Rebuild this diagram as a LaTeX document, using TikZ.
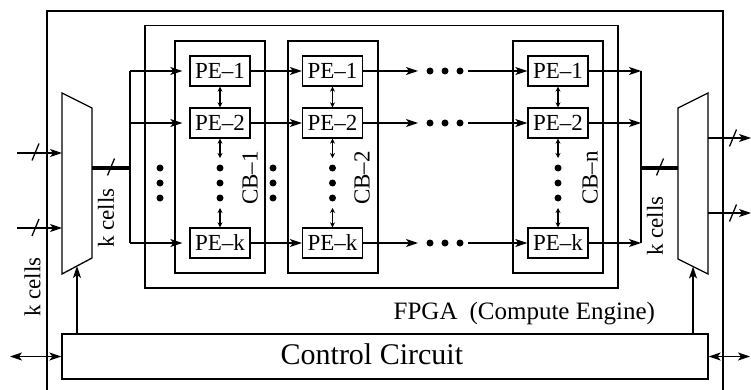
\documentclass[tikz,border=0pt]{standalone}
\usepackage{fontspec}
\setmainfont{Liberation Serif}
\usetikzlibrary{arrows.meta}
\begin{document}
\begin{tikzpicture}[x=1pt,y=-1pt,
  line width=1.3pt,
  pe/.style={draw, minimum width=60pt, minimum height=30pt, inner sep=0pt, font=\fontsize{23}{23}\selectfont},
  cbbox/.style={draw, minimum width=90pt, minimum height=232pt, inner sep=0pt},
  fw/.style={-{Stealth[length=12pt,width=8pt,inset=3pt]}},
  bothw/.style={{Stealth[length=12pt,width=8pt,inset=3pt]}-{Stealth[length=12pt,width=8pt,inset=3pt]}},
  sm/.style={{Stealth[length=5pt,width=5pt]}-{Stealth[length=5pt,width=5pt]}},
  bigdot/.style={circle, fill, inner sep=0pt, minimum size=7pt},
  bus/.style={line width=3.3pt},
  lbl/.style={inner sep=0pt, font=\fontsize{23}{23}\selectfont},
  busslash/.pic={\draw[line width=1.3pt] (-3.5,8.5) -- (3.5,-8.5);},
]
\useasboundingbox (0,0) rectangle (751,390);

% outer box (bottom cut off)
\draw (47,392) -- (47,11) -- (723,11) -- (723,392);
% FPGA box
\node[draw, minimum width=473pt, minimum height=262.5pt, inner sep=0pt] (fpga) at (381.5,156.75) {};
% CB boxes
\node[cbbox] (cb1) at (220,157) {};
\node[cbbox] (cb2) at (333,157) {};
\node[cbbox] (cbn) at (558,157) {};
\node[lbl, rotate=90] (cb1l) at (250,178) {CB--1};
\node[lbl, rotate=90] (cb2l) at (362,178) {CB--2};
\node[lbl, rotate=90] (cbnl) at (590,178) {CB--n};

% PEs
\foreach \c/\x in {1/220,2/332.5,n/558}{
  \node[pe] (pe\c1) at (\x,71) {PE--1};
  \node[pe] (pe\c2) at (\x,123) {PE--2};
  \node[pe] (pe\c k) at (\x,243) {PE--k};
  \coordinate (va\c) at (\x,158);
  \coordinate (vb\c) at (\x,208);
  \draw[sm] (pe\c1.south) -- (pe\c2.north);
  \draw[sm] (pe\c2.south) -- (va\c);
  \draw[sm] (vb\c) -- (pe\c k.north);
  \node[bigdot] (vd\c a) at (\x,168) {};
  \node[bigdot] (vd\c b) at (\x,183) {};
  \node[bigdot] (vd\c c) at (\x,198) {};
}
% side dots
\foreach \x/\n in {160/l,273/m}{
  \node[bigdot] (sd\n a) at (\x,168) {};
  \node[bigdot] (sd\n b) at (\x,183) {};
  \node[bigdot] (sd\n c) at (\x,198) {};
}

% left mux
\draw (62,93) -- (92,108) -- (92,258) -- (62,274) -- cycle;
\coordinate (lmuxb) at (77,266);
\coordinate (lmuxo) at (92,168);
\coordinate (in1) at (17,153);
\coordinate (in1e) at (62,153);
\coordinate (in2) at (17,228);
\coordinate (in2e) at (62,228);
\draw[fw] (in1) -- (in1e);
\draw[fw] (in2) -- (in2e);
\pic at (35.5,152) {busslash};
\pic at (35.5,227.5) {busslash};
% left bus
\coordinate (lb) at (130,168);
\coordinate (lbt) at (130,71);
\coordinate (lbm) at (130,123);
\coordinate (lbk) at (130,243);
\draw[bus] (lmuxo) -- (lb);
\pic at (111,167) {busslash};
\draw (lbt) -- (lbk);
\draw[fw, shorten >=7pt] (lbt) -- (pe11.west);
\draw[fw, shorten >=7pt] (lbm) -- (pe12.west);
\draw[fw, shorten >=7pt] (lbk) -- (pe1k.west);
\node[lbl, rotate=90] (kc1) at (106,218) {k cells};

% between CBs
\foreach \r/\y in {1/71,2/123,k/243}{
  \draw[fw] (pe1\r.east) -- (pe2\r.west);
  \coordinate (ha\r) at (418,\y);
  \coordinate (hb\r) at (468,\y);
  \draw[fw] (pe2\r.east) -- (ha\r);
  \node[bigdot] (hd\r a) at (430,\y) {};
  \node[bigdot] (hd\r b) at (445,\y) {};
  \node[bigdot] (hd\r c) at (460,\y) {};
  \draw[fw] (hb\r) -- (pen\r.west);
  \coordinate (rb\r) at (641,\y);
  \draw[fw] (pen\r.east) -- (rb\r);
}
% right bus
\draw (rb1) -- (rbk);
\coordinate (rb) at (641,168);
\coordinate (rmuxi) at (678,168);
\draw[bus] (rb) -- (rmuxi);
\pic at (660,167) {busslash};
\node[lbl, rotate=90] (kc3) at (655,226) {k cells};

% right mux
\draw (678,108) -- (708,93) -- (708,274) -- (678,259) -- cycle;
\coordinate (rmuxb) at (693,266.5);
\coordinate (o1) at (708,138);
\coordinate (o1e) at (751,138);
\coordinate (o2) at (708,213);
\coordinate (o2e) at (751,213);
\draw[fw] (o1) -- (o1e);
\draw[fw] (o2) -- (o2e);
\pic at (733,138) {busslash};
\pic at (733,213) {busslash};

% FPGA label
\node[inner sep=0pt, anchor=base west, font=\fontsize{25}{25}\selectfont] (fpgal) at (393,319) {FPGA\hspace{12pt}(Compute Engine)};

% bottom-left k cells
\node[lbl, rotate=90] (kc2) at (32.5,287) {k cells};

% control circuit
\node[draw, minimum width=646pt, minimum height=45pt, inner sep=0pt] (ctl) at (385,356.5) {};
\node[inner sep=0pt, anchor=base west, font=\fontsize{30}{30}\selectfont] (ctll) at (280,364) {Control Circuit};
\draw[fw] (ctl.north -| lmuxb) -- (lmuxb);
\draw[fw] (ctl.north -| rmuxb) -- (rmuxb);
\coordinate (lext) at (10,356.5);
\coordinate (rext) at (750,356.5);
\draw[bothw] (lext) -- (ctl.west);
\draw[bothw] (ctl.east) -- (rext);
\end{tikzpicture}
\end{document}
